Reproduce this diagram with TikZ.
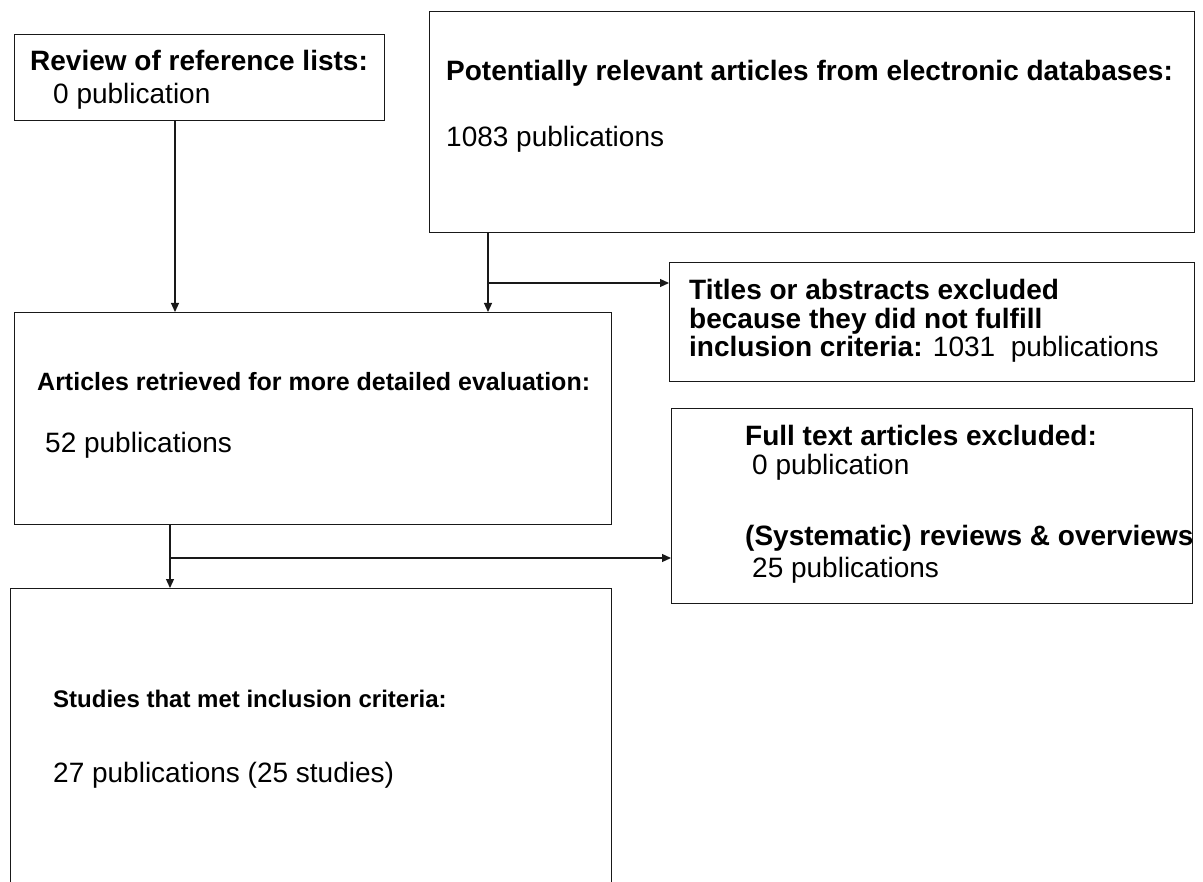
\documentclass[tikz,border=0pt]{standalone}
\usepackage{fontspec}
\setmainfont{Liberation Sans}
\usetikzlibrary{arrows.meta,calc}
\begin{document}
\begin{tikzpicture}[x=1pt,y=1pt,
  boxx/.style={draw=black!90,line width=1.2pt,inner sep=0pt,anchor=north west},
  txt/.style={anchor=base west,inner sep=0pt,font=\fontsize{28}{28.5}\selectfont},
  btxt/.style={txt,font=\fontsize{28}{28.5}\selectfont\bfseries},
  abtxt/.style={txt,font=\fontsize{25}{28.5}\selectfont\bfseries},
  sbtxt/.style={txt,font=\fontsize{24}{28.5}\selectfont\bfseries},
  arr/.style={draw=black!90,line width=1.2pt,-{Triangle[length=9pt,width=8pt]}}]
\useasboundingbox (0,0) rectangle (1203,-882);
\clip (0,0) rectangle (1203,-882);
% boxes
\node[boxx,minimum width=370pt,minimum height=86pt] (box1) at (14,-34) {};
\node[boxx,minimum width=765pt,minimum height=221pt] (box2) at (429,-11) {};
\node[boxx,minimum width=525pt,minimum height=119pt] (titles) at (669,-262) {};
\node[boxx,minimum width=597pt,minimum height=212pt] (box3) at (14,-312) {};
\node[boxx,minimum width=521pt,minimum height=195pt] (full) at (671,-408) {};
\node[boxx,minimum width=601pt,minimum height=320pt] (studies) at (10,-588) {};
% texts
\node[btxt] (t1a) at (30,-71) {Review of reference lists:};
\node[txt] (t1b) at (53,-104) {0 publication};
\node[btxt] (t2a) at (446,-81) {Potentially relevant articles from electronic databases:};
\node[txt] (t2b) at (446,-147) {1083 publications};
\node[btxt] (t3a) at (689,-300) {Titles or abstracts excluded};
\node[btxt] (t3b) at (689,-329) {because they did not fulfill};
\node[txt] (t3c) at (689,-357) {\textbf{inclusion criteria:} 1031\ \ publications};
\node[abtxt] (t4a) at (37,-391) {Articles retrieved for more detailed evaluation:};
\node[txt] (t4b) at (45,-453) {52 publications};
\node[btxt] (t5a) at (745,-446) {Full text articles excluded:};
\node[txt] (t5b) at (752,-475) {0 publication};
\node[btxt] (t5c) at (745,-545) {(Systematic) reviews \& overviews};
\node[txt] (t5d) at (752,-577) {25 publications};
\node[sbtxt] (t6a) at (53,-707) {Studies that met inclusion criteria:};
\node[txt] (t6b) at (53,-782) {27 publications (25 studies)};
% connectors
\coordinate (j1) at (488,-283);
\coordinate (j2) at (170,-558);
\draw[arr] ([xshift=161pt]box1.south west) -- ([xshift=161pt]box1.south west |- box3.north);
\draw[arr] (j1 |- box2.south) -- (j1 |- box3.north);
\draw[arr] (j1) -- (j1 -| titles.west);
\draw[arr] (j2 |- box3.south) -- (j2 |- studies.north);
\draw[arr] (j2) -- (j2 -| full.west);
\end{tikzpicture}
\end{document}
